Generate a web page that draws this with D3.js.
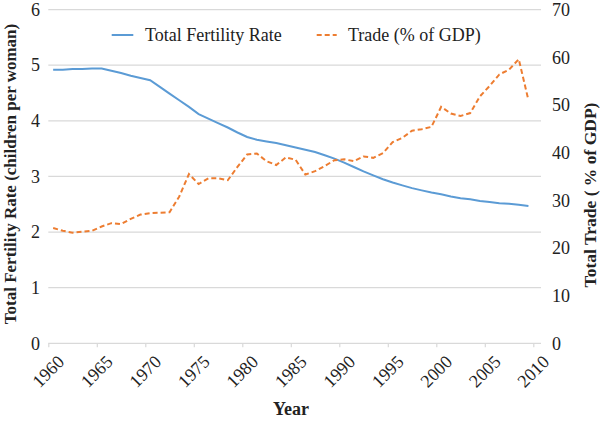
<!DOCTYPE html>
<html><head><meta charset="utf-8">
<script src="https://cdn.jsdelivr.net/npm/d3@7"></script>
<style>body{margin:0;background:#fff}svg{display:block}text{font-family:"Liberation Serif","Times New Roman",serif !important;fill:#222}</style>
</head><body><svg id="c" width="600" height="424"></svg>
<script>
const years = d3.range(1960, 2010);
const fertility = [4.92,4.92,4.93,4.93,4.94,4.94,4.90,4.86,4.81,4.77,4.73,4.61,4.49,4.37,4.25,4.12,4.04,3.96,3.88,3.79,3.71,3.66,3.63,3.60,3.56,3.52,3.48,3.44,3.38,3.32,3.25,3.17,3.09,3.02,2.95,2.89,2.84,2.79,2.75,2.71,2.68,2.64,2.61,2.59,2.56,2.54,2.52,2.51,2.49,2.47];
const trade = [24.2,23.6,23.2,23.4,23.6,24.5,25.2,25.0,26.1,27.0,27.3,27.4,27.5,30.8,35.5,33.4,34.6,34.6,34.2,37.0,39.6,39.8,38.2,37.4,39.0,38.5,35.4,36.1,37.2,38.4,38.6,38.2,39.2,38.9,39.9,42.2,43.1,44.6,44.9,45.4,49.6,48.2,47.7,48.3,51.8,54.0,56.4,57.4,59.6,51.0];
const leftTicks = [0,1,2,3,4,5,6];
const rightTicks = [0,10,20,30,40,50,60,70];
const xLabels = [1960,1965,1970,1975,1980,1985,1990,1995,2000,2005,2010];
const seriesNames = ["Total Fertility Rate", "Trade (% of GDP)"];

const svg = d3.select("#c");
const x = d3.scaleLinear().domain([1959.5, 2009.5]).range([48.3, 533.3]);
const yL = d3.scaleLinear().domain([0, 6]).range([343.3, 9.6]);
const yR = d3.scaleLinear().domain([0, 70]).range([343.3, 9.6]);
const gridRight = 541;

// gridlines
svg.append("g").selectAll("line").data(leftTicks).join("line")
  .attr("x1", 48.3).attr("x2", gridRight)
  .attr("y1", d => yL(d)).attr("y2", d => yL(d))
  .attr("stroke", "#d9d9d9").attr("stroke-width", 1.2);

// x axis
const xAxis = d3.axisBottom(x).tickValues(xLabels.map(d => d - 0.5)).tickSize(4).tickFormat("");
const gx = svg.append("g").attr("transform", `translate(0,${yL(0)})`).call(xAxis);
gx.select(".domain").remove();
gx.selectAll(".tick line").attr("stroke", "#d9d9d9").attr("stroke-width", 1.2);
svg.append("g").selectAll("text").data(xLabels).join("text")
  .attr("transform", d => `translate(${x(d - 0.5) + 17},363) rotate(-45)`)
  .attr("text-anchor", "end").attr("font-size", 18).text(d => d);

// left y labels
const gl = svg.append("g").attr("transform", "translate(40,0)")
  .call(d3.axisLeft(yL).tickValues(leftTicks).tickSize(0).tickPadding(0).tickFormat(d3.format("d")));
gl.select(".domain").remove();
gl.selectAll("text").attr("font-size", 18).attr("fill", "#222");
// right y labels
const gr = svg.append("g").attr("transform", "translate(552,0)")
  .call(d3.axisRight(yR).tickValues(rightTicks).tickSize(0).tickPadding(0).tickFormat(d3.format("d")));
gr.select(".domain").remove();
gr.selectAll("text").attr("font-size", 18).attr("fill", "#222");

// lines
const lineF = d3.line().x((d, i) => x(years[i])).y(d => yL(d));
const lineT = d3.line().x((d, i) => x(years[i])).y(d => yR(d));
svg.append("path").datum(fertility).attr("d", lineF).attr("fill", "none")
  .attr("stroke", "#5b9bd5").attr("stroke-width", 2);
svg.append("path").datum(trade).attr("d", lineT).attr("fill", "none")
  .attr("stroke", "#ed7d31").attr("stroke-width", 2).attr("stroke-dasharray", "5,3");

// legend
const lg = svg.append("g");
lg.append("line").attr("x1", 111.7).attr("x2", 133.3).attr("y1", 35).attr("y2", 35)
  .attr("stroke", "#5b9bd5").attr("stroke-width", 2);
lg.append("text").attr("x", 145).attr("y", 41).attr("font-size", 18).text(seriesNames[0]);
lg.append("line").attr("x1", 316.7).attr("x2", 336.7).attr("y1", 35).attr("y2", 35)
  .attr("stroke", "#ed7d31").attr("stroke-width", 2).attr("stroke-dasharray", "5,3");
lg.append("text").attr("x", 348).attr("y", 41).attr("font-size", 18).text(seriesNames[1]);

// axis titles
svg.append("text").attr("transform", "translate(16,174) rotate(-90)")
  .attr("text-anchor", "middle").attr("font-size", 17).attr("font-weight", "bold")
  .text("Total Fertility Rate (children per woman)");
svg.append("text").attr("transform", "translate(596,195) rotate(-90)")
  .attr("text-anchor", "middle").attr("font-size", 17.5).attr("font-weight", "bold")
  .text("Total Trade ( % of GDP)");
svg.append("text").attr("x", 291).attr("y", 415)
  .attr("text-anchor", "middle").attr("font-size", 18).attr("font-weight", "bold").text("Year");
</script></body></html>
